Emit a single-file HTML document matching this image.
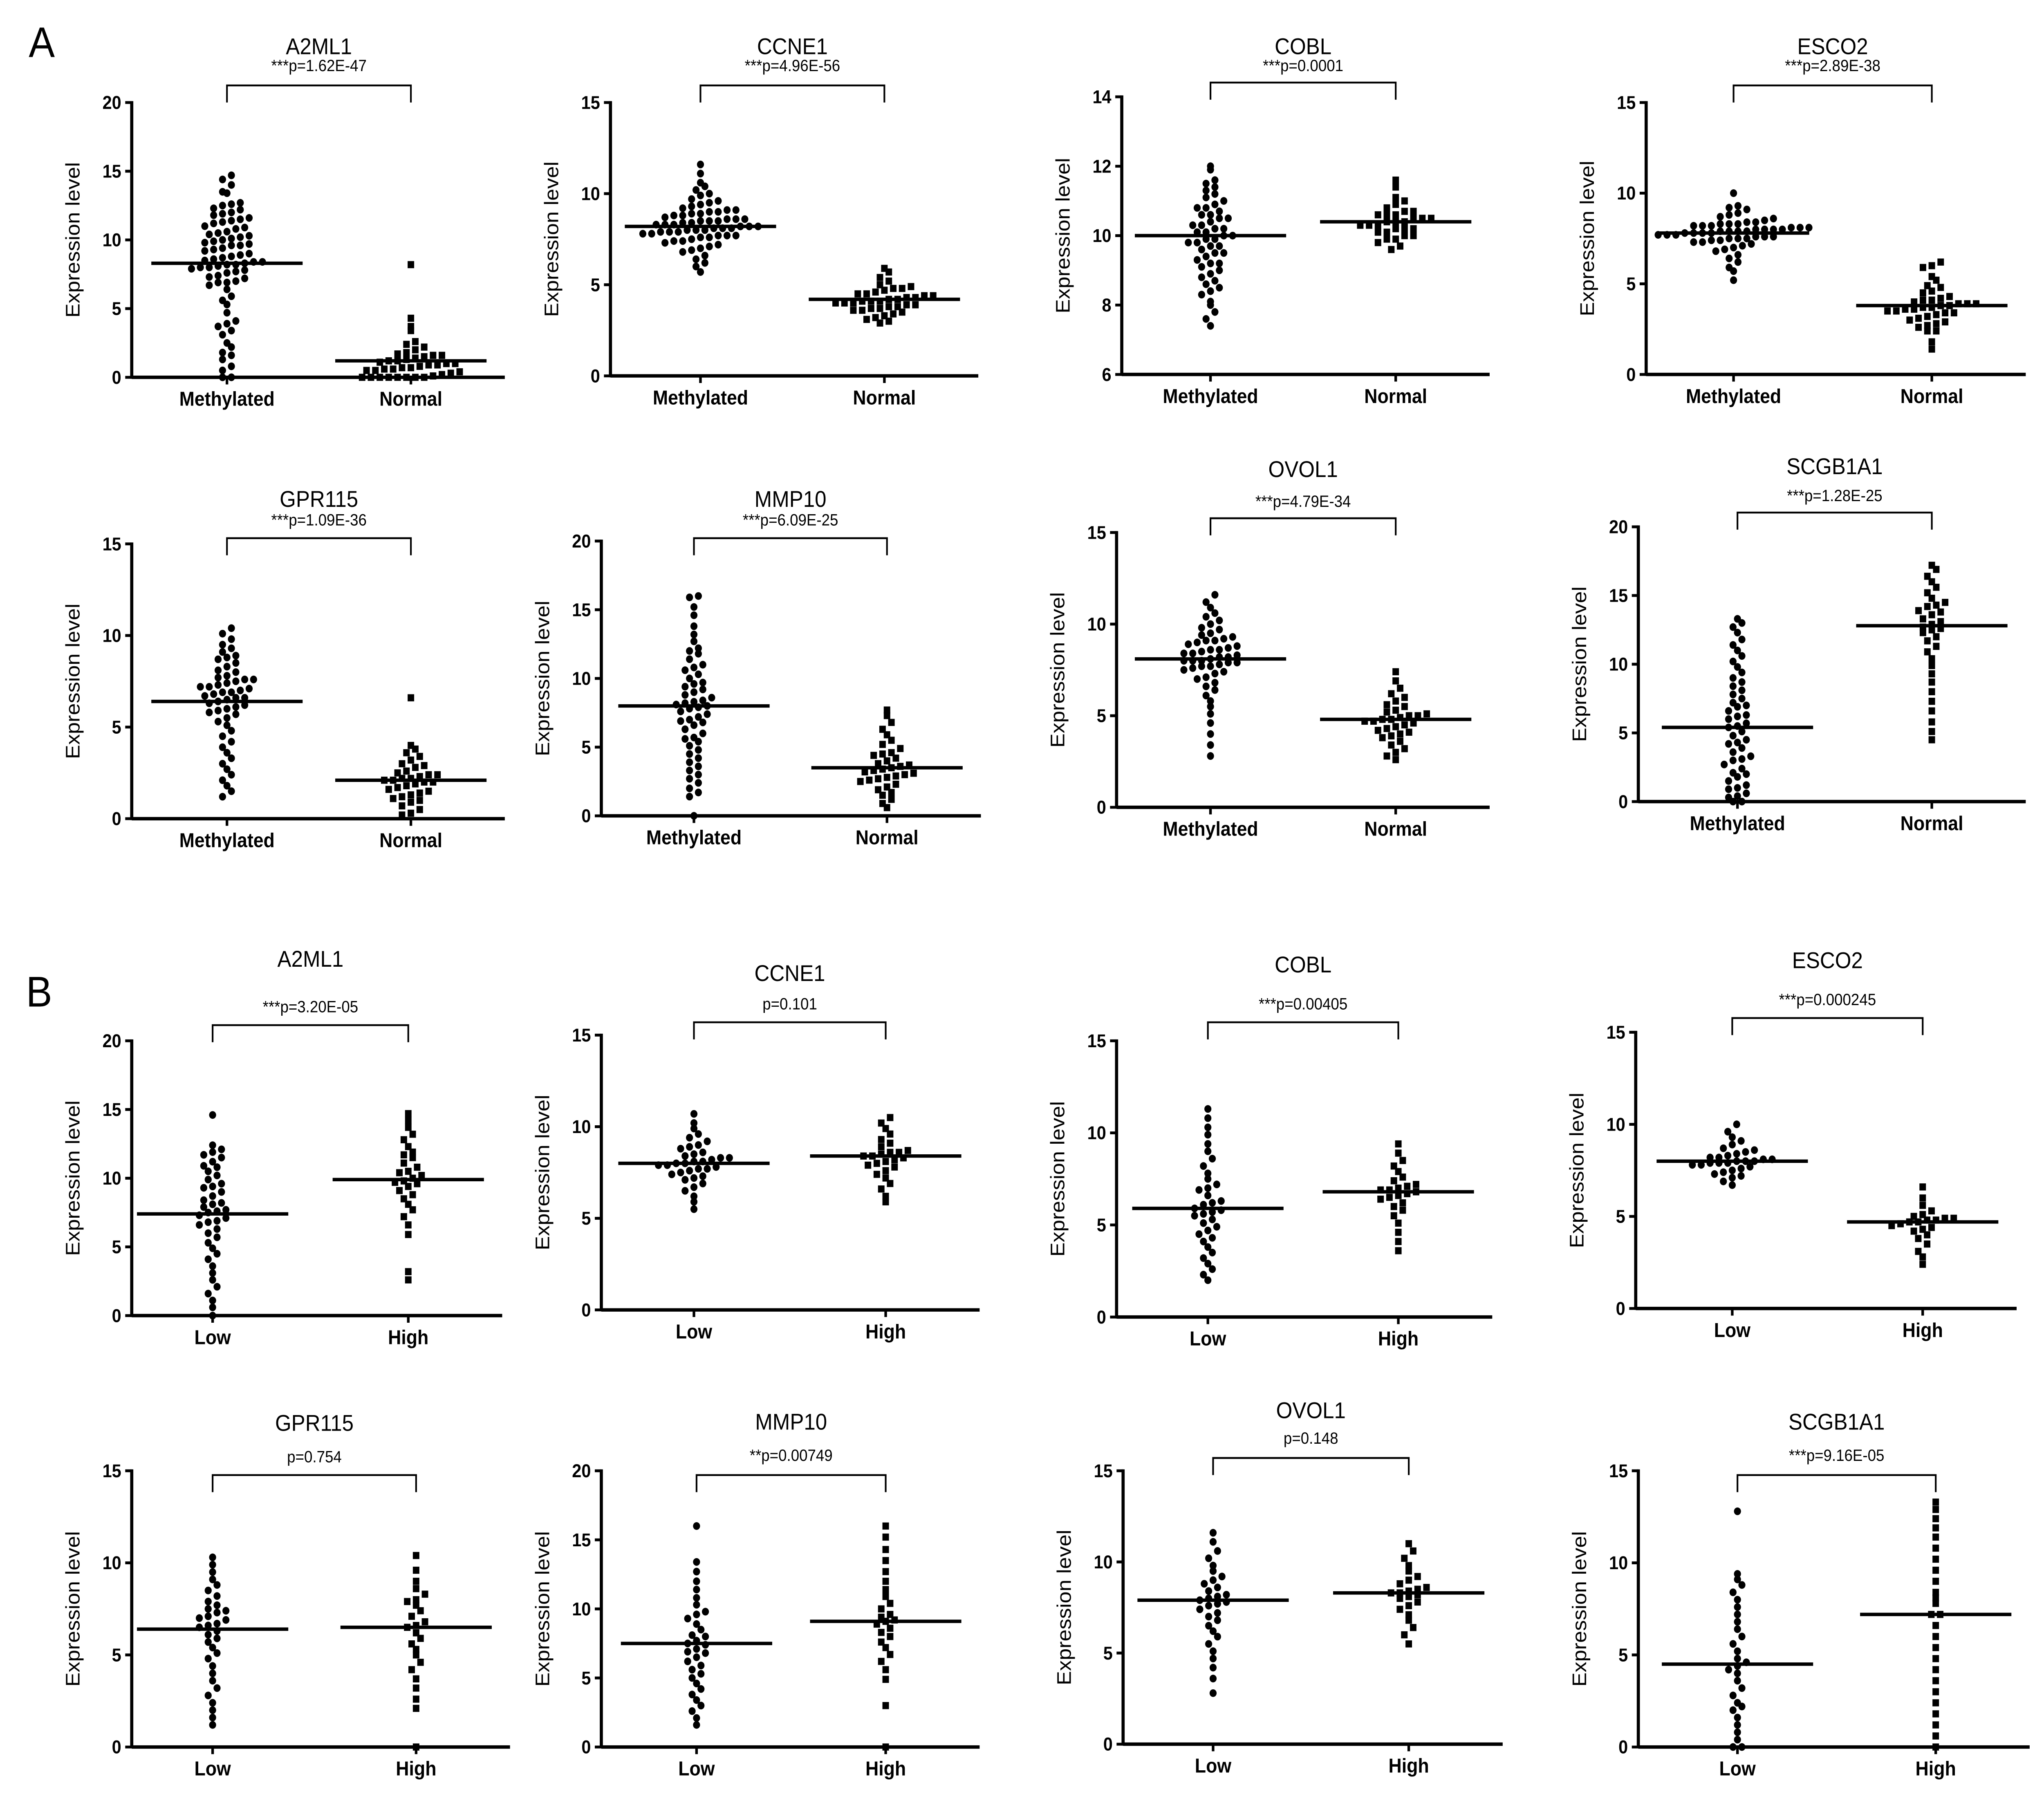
<!DOCTYPE html>
<html><head><meta charset="utf-8"><style>
html,body{margin:0;padding:0;background:#fff;width:100vw;height:100vh;overflow:hidden}
svg{display:block;position:absolute;left:0;top:0;width:100vw;height:100vh}
text{font-family:"Liberation Sans",Arial,sans-serif;fill:#000}
</style></head><body>
<svg id="fig" xmlns="http://www.w3.org/2000/svg" viewBox="0 0 1567 1260" preserveAspectRatio="none">
<rect width="1567" height="1260" fill="#fff"/>
<text x="22" y="40" font-size="30">A</text>
<text x="20" y="707" font-size="30">B</text>
</svg>
<script>
// ---- data ----
const A_A2ML1_g1=[14.7,14.4,14,13.5,13.4,12.7,12.6,12.5,12.3,12,11.9,11.8,11.6,11.5,11.4,11.2,11,10.9,10.8,10.6,10.4,10.3,10.2,10.1,10,9.8,9.7,9.6,9.6,9.4,9.3,9.2,9,8.9,8.8,8.6,8.5,8.4,8.4,8.3,8.2,8.2,8.1,8,8,7.9,7.8,7.7,7.6,7.4,7.2,7,6.9,6.7,6.4,5.9,5.6,5.3,4.7,4.1,3.9,3.7,3.4,3.1,2.5,2.2,1.8,1.6,1.3,0.8,0.5,0,0,10.5,9.9,11.3,12.2,8.7,7.3,6.9];
const A_A2ML1_g2=[8.2,4.3,3.7,3.4,2.6,2.4,2.2,2,1.8,1.7,1.6,1.6,1.5,1.4,1.3,1.2,1.2,1.1,1,1,0.9,0.9,0.8,0.7,0.7,0.6,0.6,0.5,0.5,0.4,0.3,0.2,0.1,0,0,0,0,0,0,0,0];
const A_CCNE1_g1=[11.6,11.1,10.6,10.4,10.2,10,9.9,9.7,9.6,9.5,9.4,9.3,9.2,9.1,9,9,8.9,8.8,8.8,8.7,8.6,8.6,8.5,8.5,8.4,8.4,8.3,8.3,8.2,8.2,8.2,8.1,8.1,8,8,8,7.9,7.9,7.8,7.8,7.7,7.7,7.6,7.6,7.5,7.4,7.4,7.3,7.2,7.1,7,6.9,6.8,6.6,6.4,6.2,6,5.7,8.6,8.1,7.9,8.3,7.7,9.1,8.9,8.5];
const A_CCNE1_g2=[5.9,5.7,5.4,5.2,5,4.9,4.8,4.7,4.6,4.5,4.4,4.4,4.3,4.3,4.2,4.2,4.1,4.1,4,4,3.9,3.9,3.8,3.8,3.7,3.6,3.6,3.5,3.4,3.3,3.2,3.1,3,2.9,4.5,4.0,4.1,3.7,4.8];
const A_COBL_g1=[12,11.9,11.6,11.5,11.3,11.2,11.1,11,10.9,10.8,10.7,10.6,10.5,10.5,10.4,10.3,10.3,10.2,10.1,10,10,9.9,9.8,9.8,9.7,9.6,9.5,9.5,9.4,9.3,9.2,9.1,9,8.9,8.8,8.7,8.6,8.4,8.3,8.1,8,7.8,7.6,7.4,10.6,10.2,9.9,10.8,11.4,10.1,9.7,9.2,8.5];
const A_COBL_g2=[11.6,11.4,11.1,11,10.9,10.8,10.7,10.7,10.6,10.6,10.5,10.5,10.4,10.4,10.4,10.3,10.3,10.2,10.2,10.1,10.1,10,10,9.9,9.9,9.8,9.7,9.6,10.5,10.3,10.6,10.2];
const A_ESCO2_g1=[10,9.3,9.2,9.1,8.9,8.8,8.7,8.6,8.5,8.4,8.4,8.3,8.3,8.2,8.2,8.1,8.1,8,8,8,7.9,7.9,7.8,7.8,7.8,7.7,7.7,7.6,7.6,7.5,7.5,7.4,7.3,7.3,7.2,7.1,7,6.9,6.8,6.6,6.4,6.2,5.9,5.7,5.2,7.9,8.1,7.7,7.5,8.3,8.0,7.6,7.9,8.2,7.8,7.4];
const A_ESCO2_g2=[6.2,6,5.9,5.4,5.2,4.9,4.8,4.6,4.5,4.3,4.2,4.1,4,3.9,3.9,3.8,3.8,3.7,3.6,3.5,3.4,3.3,3.2,3.1,3,2.9,2.8,2.7,2.6,2.4,2.4,1.8,1.4,4.1,3.7,3.9,3.5,3.6,3.4];
const A_GPR115_g1=[10.4,10.1,9.8,9.5,9.3,9.1,8.9,8.7,8.5,8.3,8.1,8,7.8,7.7,7.6,7.5,7.4,7.3,7.2,7.1,7,6.9,6.8,6.7,6.6,6.5,6.4,6.3,6.2,6.1,6,5.9,5.7,5.5,5.3,5.1,4.8,4.5,4.2,3.9,3.6,3.3,3,2.7,2.4,2.1,1.8,1.5,1.2,7.2,6.9,7.6,8.8,6.6,5.8];
const A_GPR115_g2=[6.6,4,3.8,3.6,3.4,3.2,3,2.9,2.8,2.6,2.5,2.4,2.3,2.2,2.1,2.1,2,2,1.9,1.8,1.7,1.6,1.5,1.4,1.3,1.2,1.1,1,0.9,0.7,0.5,0.3,0.2,2.2,2.4];
const A_MMP10_g1=[16,15.9,15.2,14.6,13.8,13.2,12.7,12.2,11.8,11.4,11,10.6,10.3,10,9.7,9.4,9.2,9,8.8,8.6,8.4,8.2,8,7.8,7.6,7.4,7.2,7,6.8,6.6,6.3,6,5.7,5.4,5.1,4.8,4.5,4.2,3.9,3.6,3.3,3,2.7,2.4,2,1.7,1.4,0,8.3,7.9,9.6,10.8,6.9,8.1,12.0,5.6];
const A_MMP10_g2=[7.7,7.3,6.8,6.3,5.9,5.5,5.2,4.9,4.6,4.4,4.2,4,3.8,3.6,3.5,3.4,3.3,3.2,3,2.9,2.8,2.6,2.5,2.3,2.1,1.9,1.7,1.5,1.2,0.9,0.6,3.7,3.1,4.5,2.7];
const A_OVOL1_g1=[11.6,11.2,10.9,10.6,10.4,10.2,10,9.8,9.7,9.5,9.4,9.3,9.2,9.1,9,8.9,8.8,8.7,8.6,8.5,8.4,8.3,8.2,8.1,8,8,7.9,7.8,7.7,7.6,7.5,7.4,7.3,7.1,7,6.8,6.6,6.4,6.1,5.8,5.5,5.1,4.6,4,3.4,2.8,8.2,8.4,7.9,8.6,9.1,7.7,8.0];
const A_OVOL1_g2=[7.4,6.9,6.5,6.2,6,5.8,5.6,5.5,5.3,5.2,5.1,5,4.9,4.8,4.8,4.7,4.6,4.5,4.4,4.3,4.2,4.1,4,3.9,3.8,3.6,3.4,3.2,3,2.8,2.6,4.7,5.0];
const A_SCGB1A1_g1=[13.3,13,12.7,12.3,11.8,11.4,11,10.6,10.2,9.8,9.4,9,8.7,8.4,8.1,7.8,7.5,7.2,6.9,6.6,6.3,6,5.7,5.4,5.1,4.8,4.5,4.2,3.9,3.6,3.3,3,2.7,2.4,2.1,1.8,1.5,1.2,0.9,0.6,0.3,0,0,5.5,6.2,4.3,3.1,7.0,2.0,1.0,0.4];
const A_SCGB1A1_g2=[17.2,16.9,16.4,16,15.6,15.2,14.8,14.5,14.2,13.9,13.6,13.3,13.1,12.9,12.7,12.5,12.3,12,11.7,11.3,10.9,10.4,9.9,9.3,8.7,8,7.3,6.6,5.8,5.1,4.5,13.8,14.3,12.6];
const B_A2ML1_g1=[14.6,12.4,12.1,11.9,11.7,11.5,11.2,10.8,10.5,10.2,9.9,9.6,9.3,9,8.7,8.4,8.1,7.9,7.7,7.5,7.3,7.1,6.9,6.6,6.3,6,5.7,5.3,4.9,4.5,4.1,3.6,3.1,2.6,2.1,1.6,1.1,0.6,0,8.2,7.6,9.4,10.9,6.8];
const B_A2ML1_g2=[14.7,14.2,13.7,13.2,12.8,12.3,11.9,11.5,11.1,10.8,10.5,10.2,10,9.8,9.6,9.4,9.1,8.8,8.5,8.1,7.7,7.2,6.6,5.9,3.2,2.6,10.4,9.7,11.7];
const B_CCNE1_g1=[10.7,10.2,9.9,9.6,9.4,9.2,9,8.9,8.8,8.6,8.5,8.4,8.3,8.2,8.1,8,8,7.9,7.8,7.7,7.6,7.5,7.4,7.3,7.2,7.1,6.9,6.7,6.5,6.2,5.9,5.5,8.1,7.9,8.3,7.7];
const B_CCNE1_g2=[10.5,10.2,9.9,9.6,9.3,9.1,8.9,8.7,8.6,8.5,8.4,8.3,8.2,8.1,8,7.9,7.8,7.6,7.4,7.2,6.9,6.6,6.2,5.9,8.4,8.6];
const B_COBL_g1=[11.3,10.8,10.3,9.9,9.4,9,8.6,8.2,7.8,7.5,7.2,6.9,6.6,6.3,6.1,5.9,5.7,5.5,5.3,5.1,4.9,4.7,4.5,4.3,4.1,3.8,3.5,3.2,2.9,2.6,2.3,2,5.8,6.2,5.6,7.0];
const B_COBL_g2=[9.4,8.9,8.5,8.2,7.9,7.6,7.4,7.2,7,6.9,6.8,6.7,6.6,6.4,6.2,6,5.8,5.5,5.1,4.6,4.1,3.6,6.9,7.1,6.5];
const B_ESCO2_g1=[10,9.6,9.3,9.1,8.9,8.7,8.6,8.5,8.4,8.3,8.2,8.1,8.1,8,8,7.9,7.9,7.8,7.8,7.7,7.6,7.5,7.4,7.3,7.2,7.1,6.9,6.7,8.0,8.2,7.9];
const B_ESCO2_g2=[6.6,6,5.6,5.3,5.1,5,4.9,4.8,4.8,4.7,4.6,4.5,4.4,4.3,4.2,4,3.8,3.5,3.1,2.8,2.4,4.7,4.9];
const B_GPR115_g1=[10.3,9.9,9.5,9.1,8.8,8.5,8.2,7.9,7.7,7.5,7.3,7.1,6.9,6.7,6.5,6.3,6.1,5.9,5.7,5.4,5.1,4.8,4.4,4,3.6,3.2,2.8,2.4,2,1.6,1.2,6.6,7.0,7.4];
const B_GPR115_g2=[10.4,9.6,9,8.6,8.3,8,7.7,7.4,7.1,6.8,6.5,6.2,5.9,5.6,5.3,5,4.6,4.2,3.7,3.2,2.6,2.1,0,6.6,7.9];
const B_MMP10_g1=[16,13.4,12.7,12,11.4,10.8,10.3,9.8,9.3,8.9,8.5,8.1,7.7,7.4,7.1,6.8,6.5,6.2,5.9,5.6,5.3,5,4.6,4.2,3.8,3.4,3,2.6,2.1,1.6,7.5,8.0,6.9,9.6];
const B_MMP10_g2=[16,15.2,14.3,13.5,12.7,12,11.4,10.9,10.4,10,9.6,9.2,8.9,8.6,8.3,8,7.6,7.2,6.7,6.2,5.6,4.9,3,0,9.1,9.4];
const B_OVOL1_g1=[11.6,11.1,10.6,10.2,9.8,9.5,9.2,9,8.8,8.6,8.4,8.2,8,7.8,7.6,7.4,7.2,7,6.8,6.5,6.2,5.9,5.5,5.1,4.7,4.2,3.6,2.8,7.9,8.1,7.7];
const B_OVOL1_g2=[11,10.6,10.2,9.8,9.5,9.2,9,8.8,8.6,8.4,8.3,8.2,8.1,8,7.8,7.6,7.4,7.1,6.8,6.4,6,5.5,8.3,8.5];
const B_SCGB1A1_g1=[12.8,9.4,9.1,8.8,8.4,8,7.6,7.2,6.8,6.4,6,5.6,5.2,4.8,4.4,4,3.6,3.2,2.8,2.4,2,1.6,1.2,0.8,0.4,0,0,4.6,4.2,2.2];
const B_SCGB1A1_g2=[13.3,12.9,12.4,11.9,11.4,10.8,10.2,9.6,9,8.4,7.8,7.2,6.6,6,5.4,4.8,4.2,3.6,3,2.4,1.8,1.2,0.6,0,7.2,8.1];
const means=[8.3,1.2,8.2,4.2,10.0,10.4,7.8,3.8,6.4,2.1,8.0,3.5,8.1,4.8,5.4,12.8,7.4,9.9,8.0,8.4,5.9,6.8,8.0,4.7,6.4,6.5,7.5,9.1,7.9,8.3,4.5,7.2];
const titles=["A2ML1","CCNE1","COBL","ESCO2","GPR115","MMP10","OVOL1","SCGB1A1","A2ML1","CCNE1","COBL","ESCO2","GPR115","MMP10","OVOL1","SCGB1A1"];
const pTexts=["***p=1.62E-47","***p=4.96E-56","***p=0.0001","***p=2.89E-38","***p=1.09E-36","***p=6.09E-25","***p=4.79E-34","***p=1.28E-25","***p=3.20E-05","p=0.101","***p=0.00405","***p=0.000245","p=0.754","**p=0.00749","p=0.148","***p=9.16E-05"];
const yMax=[20,15,14,15,15,20,15,20,20,15,15,15,15,20,15,15];
const yMin=[0,0,6,0,0,0,0,0,0,0,0,0,0,0,0,0];
const yStep=[5,5,2,5,5,5,5,5,5,5,5,5,5,5,5,5];
const catsA=["Methylated","Normal"];
const catsB=["Low","High"];
const groups=[[A_A2ML1_g1,A_A2ML1_g2],[A_CCNE1_g1,A_CCNE1_g2],[A_COBL_g1,A_COBL_g2],[A_ESCO2_g1,A_ESCO2_g2],[A_GPR115_g1,A_GPR115_g2],[A_MMP10_g1,A_MMP10_g2],[A_OVOL1_g1,A_OVOL1_g2],[A_SCGB1A1_g1,A_SCGB1A1_g2],[B_A2ML1_g1,B_A2ML1_g2],[B_CCNE1_g1,B_CCNE1_g2],[B_COBL_g1,B_COBL_g2],[B_ESCO2_g1,B_ESCO2_g2],[B_GPR115_g1,B_GPR115_g2],[B_MMP10_g1,B_MMP10_g2],[B_OVOL1_g1,B_OVOL1_g2],[B_SCGB1A1_g1,B_SCGB1A1_g2]];

// ---- layout ----
const L=[
 {ax:101,top:72,bot:265,c1:174,c2:315,ty:38,py:50,by:60},
 {ax:468,top:72,bot:264,c1:537,c2:678,ty:38,py:50,by:60},
 {ax:860,top:68,bot:263,c1:928,c2:1070,ty:38,py:50,by:58},
 {ax:1262,top:72,bot:263,c1:1329,c2:1481,ty:38,py:50,by:60},
 {ax:101,top:382,bot:575,c1:174,c2:315,ty:356,py:369,by:378},
 {ax:461,top:380,bot:573,c1:532,c2:680,ty:356,py:369,by:378},
 {ax:856,top:374,bot:567,c1:928,c2:1070,ty:335,py:356,by:364},
 {ax:1256,top:370,bot:563,c1:1332,c2:1481,ty:333,py:352,by:360},
 {ax:101,top:731,bot:924,c1:163,c2:313,ty:679,py:711,by:720},
 {ax:461,top:727,bot:920,c1:532,c2:679,ty:689,py:709,by:718},
 {ax:856,top:731,bot:925,c1:926,c2:1072,ty:683,py:709,by:718},
 {ax:1254,top:725,bot:919,c1:1328,c2:1474,ty:680,py:706,by:715},
 {ax:101,top:1033,bot:1227,c1:163,c2:319,ty:1005,py:1027,by:1036},
 {ax:461,top:1033,bot:1227,c1:534,c2:679,ty:1004,py:1026,by:1036},
 {ax:861,top:1033,bot:1225,c1:930,c2:1080,ty:996,py:1014,by:1024},
 {ax:1256,top:1033,bot:1227,c1:1332,c2:1484,ty:1004,py:1026,by:1036}
];
const svg=document.getElementById('fig');
const NS='http://www.w3.org/2000/svg';
function mk(tag,attrs,parent,txt){const e=document.createElementNS(NS,tag);for(const k in attrs)e.setAttribute(k,attrs[k]);if(txt!==undefined)e.textContent=txt;parent.appendChild(e);return e;}

for(let i=0;i<16;i++){
  const p=L[i];
  const g=mk('g',{},svg);
  
  
  const y=v=>p.bot-(v-yMin[i])/(yMax[i]-yMin[i])*(p.bot-p.top);
  const cats=i<8?catsA:catsB;
  const xEnd=p.c2+72;
  const mid=(p.c1+p.c2)/2;
  const t=mk('text',{x:mid,y:p.ty,'font-size':16,'text-anchor':'middle'},g,titles[i]);
  
  
  const pt=mk('text',{x:mid,y:p.py,'font-size':11.5,'text-anchor':'middle'},g,pTexts[i]);
  
  
  const br=mk('path',{d:`M${p.c1} ${p.by+12}V${p.by}H${p.c2}V${p.by+12}`,fill:'none',stroke:'#000','stroke-width':1.3},g);
  
  
  const ya=mk('line',{x1:p.ax,y1:p.top-1,x2:p.ax,y2:p.bot+1,stroke:'#000','stroke-width':2.4},g);
  
  
  const xa=mk('line',{x1:p.ax,y1:p.bot,x2:xEnd,y2:p.bot,stroke:'#000','stroke-width':2.4},g);
  
  
  for(let v=yMin[i];v<=yMax[i]+1e-9;v+=yStep[i]){
    mk('line',{x1:p.ax-5,y1:y(v),x2:p.ax,y2:y(v),stroke:'#000','stroke-width':2},g);
    const tl=mk('text',{x:p.ax-8,y:y(v)+4.5,'font-size':13,'font-weight':'bold','text-anchor':'end'},g,String(v));
    
    
  }
  const yl=mk('text',{x:0,y:0,'font-size':15,'text-anchor':'middle',transform:`translate(${p.ax-40},${(p.top+p.bot)/2}) rotate(-90)`},g,'Expression level');
  
  
  [p.c1,p.c2].forEach((cx,k)=>{
    mk('line',{x1:cx,y1:p.bot,x2:cx,y2:p.bot+5,stroke:'#000','stroke-width':2},g);
    const cl=mk('text',{x:cx,y:p.bot+20,'font-size':14,'font-weight':'bold','text-anchor':'middle'},g,cats[k]);
    
    
    const vals=groups[i][k].slice().sort((a,b)=>a-b);
    const bins={};
    vals.forEach(v=>{const b=Math.round(y(v)/6);(bins[b]=bins[b]||[]).push(v);});
    for(const b in bins){
      const arr=bins[b];const n=arr.length;
      arr.forEach((v,j)=>{
        const px=cx+(j-(n-1)/2)*6.8;
        let m;
        if(k===0){m=mk('circle',{cx:px,cy:y(v),r:2.7,fill:'#000'},g);}
        else{m=mk('rect',{x:px-2.5,y:y(v)-2.5,width:5,height:5,fill:'#000'},g);}
        
        
      });
    }
    const ml=mk('line',{x1:cx-58,y1:y(means[i*2+k]),x2:cx+58,y2:y(means[i*2+k]),stroke:'#000','stroke-width':2.4},g);
    
    
  });
}
</script>
</body></html>
